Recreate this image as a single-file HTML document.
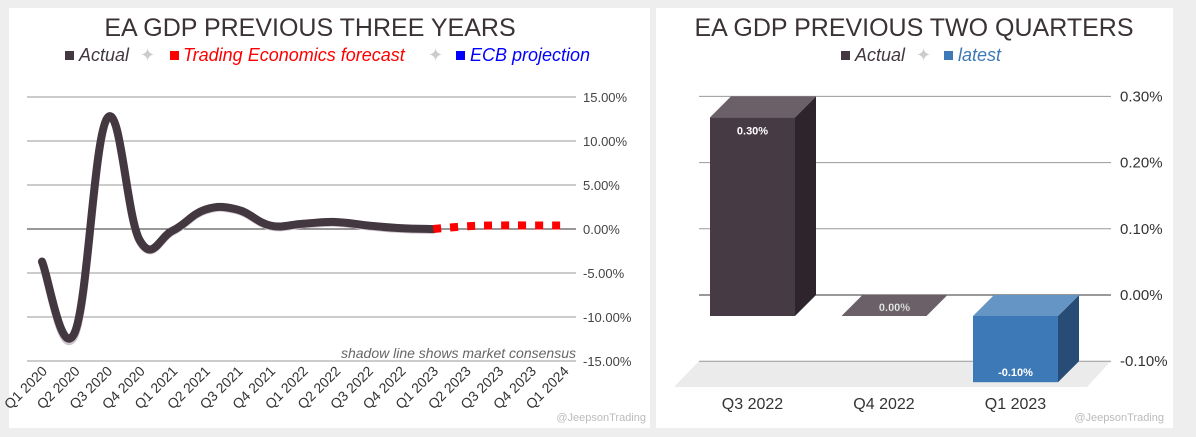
<!DOCTYPE html>
<html><head><meta charset="utf-8"><style>
html,body{margin:0;padding:0;background:#eeeeee;}
svg{display:block;font-family:"Liberation Sans",sans-serif;}
</style></head><body>
<svg id="root" width="1196" height="437" viewBox="0 0 1196 437" xmlns="http://www.w3.org/2000/svg">
<rect x="9" y="8" width="641" height="420" fill="#fff"/>
<rect x="656" y="8" width="517" height="420" fill="#fff"/>
<text x="310" y="36" font-size="25" fill="#3a3236" text-anchor="middle">EA GDP PREVIOUS THREE YEARS</text>
<g font-size="18" font-style="italic">
<rect x="65" y="51" width="9" height="9" fill="#433840"/>
<text x="79" y="61" fill="#433840">Actual</text>
<text x="140" y="61" fill="#ccc" font-style="normal">✦</text>
<rect x="170" y="51" width="9" height="9" fill="#f00"/>
<text x="183" y="61" fill="#f00">Trading Economics forecast</text>
<text x="428" y="61" fill="#ccc" font-style="normal">✦</text>
<rect x="456" y="51" width="9" height="9" fill="#00f"/>
<text x="470" y="61" fill="#00f">ECB projection</text>
</g>
<g id="left"></g>
<text x="576" y="358" font-size="14" font-style="italic" fill="#666" text-anchor="end">shadow line shows market consensus</text>
<text x="646" y="421" font-size="11" fill="#bbb" text-anchor="end">@JeepsonTrading</text>

<text x="914" y="36" font-size="25" fill="#3a3236" text-anchor="middle">EA GDP PREVIOUS TWO QUARTERS</text>
<g font-size="18" font-style="italic">
<rect x="841" y="51" width="9" height="9" fill="#433840"/>
<text x="855" y="61" fill="#433840">Actual</text>
<text x="916" y="61" fill="#ccc" font-style="normal">✦</text>
<rect x="944" y="51" width="9" height="9" fill="#3d79b7"/>
<text x="958" y="61" fill="#3d79b7">latest</text>
</g>
<g id="right"></g>
<text x="1164" y="421" font-size="11" fill="#bbb" text-anchor="end">@JeepsonTrading</text>
</svg>
<script>
const NS="http://www.w3.org/2000/svg";
const lineCats=["Q1 2020","Q2 2020","Q3 2020","Q4 2020","Q1 2021","Q2 2021","Q3 2021","Q4 2021","Q1 2022","Q2 2022","Q3 2022","Q4 2022","Q1 2023","Q2 2023","Q3 2023","Q4 2023","Q1 2024"];
const actualVals=[-3.7,-11.8,12.6,-1.3,-0.2,2.2,2.2,0.4,0.6,0.8,0.4,0.1,0.0];
const consensusVals=[-3.8,-12.1,12.5,-1.4,-0.3,2.1,2.1,0.3,0.5,0.7,0.3,0.0,-0.1];
const forecastVals=[0.0,0.3,0.4,0.4,0.4];
const forecastStart=12;
const lineTicks=[15,10,5,0,-5,-10,-15];
const barCats=["Q3 2022","Q4 2022","Q1 2023"];
const barVals=[0.30,0.00,-0.10];
const barLabels=["0.30%","0.00%","-0.10%"];
const barTicks=[0.3,0.2,0.1,0,-0.1];

function mk(tag,attrs,parent){const e=document.createElementNS(NS,tag);for(const k in attrs)e.setAttribute(k,attrs[k]);parent.appendChild(e);return e;}
const L=document.getElementById('left');
const ly=v=>229-v*8.8;
const lx=i=>42+i*32.6;
lineTicks.forEach(t=>{
  const g=mk('line',{x1:27,x2:576,y1:ly(t),y2:ly(t),stroke:t===0?'#333':'#999','stroke-width':1},L);
  
  
  const tx=mk('text',{x:583,y:ly(t)+5,'font-size':13,fill:'#444'},L);
  tx.textContent=t.toFixed(2)+'%';
  
  
});
function smooth(pts){let d='M'+pts[0][0]+','+pts[0][1];for(let i=0;i<pts.length-1;i++){const p0=pts[i-1]||pts[i],p1=pts[i],p2=pts[i+1],p3=pts[i+2]||p2;const t=0.2;d+=' C'+(p1[0]+(p2[0]-p0[0])*t)+','+(p1[1]+(p2[1]-p0[1])*t)+' '+(p2[0]-(p3[0]-p1[0])*t)+','+(p2[1]-(p3[1]-p1[1])*t)+' '+p2[0]+','+p2[1];}return d;}
const sh=mk('path',{d:smooth(consensusVals.map((v,i)=>[lx(i),ly(v)])),fill:'none',stroke:'#cfc3cc','stroke-width':8,'stroke-linecap':'round'},L);


const ac=mk('path',{d:smooth(actualVals.map((v,i)=>[lx(i),ly(v)])),fill:'none',stroke:'#433840','stroke-width':8,'stroke-linecap':'round'},L);


const fc=mk('path',{d:smooth(forecastVals.map((v,i)=>[lx(i+forecastStart),ly(v)])),fill:'none',stroke:'#f00','stroke-width':8,'stroke-dasharray':'8 9'},L);


lineCats.forEach((c,i)=>{
  const x=lx(i)+6,y=372;
  const t=mk('text',{x:x,y:y,'font-size':14,fill:'#333','text-anchor':'end',transform:`rotate(-45 ${x} ${y})`},L);
  t.textContent=c;
  
  
});
const R=document.getElementById('right');
const ry=v=>295-v*662;
const fl=mk('polygon',{points:'699,361 1111,361 1087,387 674,387',fill:'#ebebeb'},R);


barTicks.forEach(t=>{
  const g=mk('line',{x1:699,x2:1111,y1:ry(t),y2:ry(t),stroke:t===0?'#333':'#999','stroke-width':1},R);
  
  
  const tx=mk('text',{x:1120,y:ry(t)+5,'font-size':15,fill:'#333'},R);
  tx.textContent=t.toFixed(2)+'%';
  
  
});
const DX=21,DY=21,BW=85;
const bcol=[['#463a45','#2e242c','#6b5f68'],['#463a45','#2e242c','#6b5f68'],['#3d79b7','#274c75','#6595c5']];
barCats.forEach((c,i)=>{
  const fx=710+i*131.5;
  const top=Math.min(ry(barVals[i]),ry(0))+DY, bot=Math.max(ry(barVals[i]),ry(0))+DY;
  const g=mk('g',{},R);
  
  
  const col=bcol[i];
  if(bot-top>0.5){
    mk('rect',{x:fx,y:top,width:BW,height:bot-top,fill:col[0]},g);
    mk('polygon',{points:`${fx+BW},${top} ${fx+BW+DX},${top-DY} ${fx+BW+DX},${bot-DY} ${fx+BW},${bot}`,fill:col[1]},g);
  }
  mk('polygon',{points:`${fx},${top} ${fx+DX},${top-DY} ${fx+BW+DX},${top-DY} ${fx+BW},${top}`,fill:col[2]},g);
  const ly2=barVals[i]>0?top+17:(barVals[i]<0?bot-6:top-5);
  const tl=mk('text',{x:fx+BW/2+(barVals[i]===0?DX/2:0),y:ly2,'font-size':11,'font-weight':'bold',fill:'#fff','text-anchor':'middle',stroke:barVals[i]===0?'#888':'none','stroke-width':0.5},R);
  tl.textContent=barLabels[i];
  
  
  const xl=mk('text',{x:fx+BW/2,y:409,'font-size':16,fill:'#333','text-anchor':'middle'},R);
  xl.textContent=c;
  
  
});
</script>
</body></html>
